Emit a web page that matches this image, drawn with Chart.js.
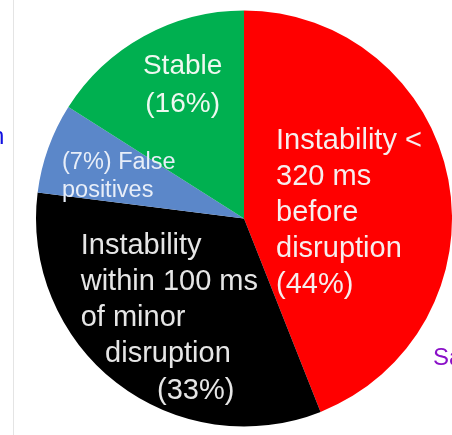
<!DOCTYPE html>
<html>
<head>
<meta charset="utf-8">
<script src="https://cdn.jsdelivr.net/npm/chart.js@4.4.0/dist/chart.umd.min.js"></script>
<style>
  html, body { margin: 0; padding: 0; background: #fff; }
  #wrap { position: relative; width: 452px; height: 435px; overflow: hidden; }
  #edge { position: absolute; left: 13px; top: 0; width: 1px; height: 435px; background: #e4e4e4; }
  .stray { position: absolute; font-family: "Liberation Sans", Arial, sans-serif; font-size: 24px; }
</style>
</head>
<body>
<div id="wrap">
  <div id="edge"></div>
  <span class="stray" style="left:-9px; top:122px; color:#1010e0;">n</span>
  <span class="stray" style="left:433px; top:343px; color:#8a10c8;">Sa</span>
  <canvas id="pie_chart" width="452" height="435"></canvas>
</div>
<script>
// categories and shares (%), clockwise from 12 o'clock
const categories = ['Instability < 320 ms before disruption', 'Instability within 100 ms of minor disruption', 'False positives', 'Stable'];
const shares = [44, 33, 7, 16];
const colors = ['#ff0000', '#000000', '#5b87c9', '#00b050'];

// label lines drawn inside each slice
const labelLines = [
  ['Instability <', '320 ms', 'before', 'disruption', '(44%)'],
  ['Instability', 'within 100 ms', 'of minor', 'disruption', '(33%)'],
  ['(7%) False', 'positives'],
  ['Stable', '(16%)']
];

// where each label sits, relative to pie centre in units of the radius
const labelSpots = [
  { dx: [0.154], dy: -0.375, lh: 36, size: 29, align: 'left', color: '#f7eeee' },
  { dx: [-0.785, -0.785, -0.785, -0.668, -0.418], dy: 0.13, lh: 36.3, size: 29, align: 'left', color: '#e6e6e6' },
  { dx: [-0.875], dy: -0.27, lh: 28, size: 23.5, align: 'left', color: '#e8eef8' },
  { dx: [-0.295], dy: -0.73, lh: 38, size: 28, align: 'center', color: '#eef8f0' }
];

const sliceText = {
  id: 'sliceText',
  afterDatasetsDraw(chart) {
    const arc = chart.getDatasetMeta(0).data[0];
    const cx = arc.x, cy = arc.y, r = arc.outerRadius;
    const c = chart.ctx;
    c.save();
    c.textBaseline = 'middle';
    labelLines.forEach(function (lines, i) {
      const s = labelSpots[i];
      c.font = s.size + 'px "Liberation Sans", Arial, sans-serif';
      c.fillStyle = s.color;
      c.textAlign = s.align;
      lines.forEach(function (t, k) {
        const dx = s.dx[Math.min(k, s.dx.length - 1)];
        c.fillText(t, cx + dx * r, cy + s.dy * r + k * s.lh);
      });
    });
    c.restore();
  }
};

const ctx = document.getElementById('pie_chart');
new Chart(ctx, {
  type: 'pie',
  data: {
    labels: categories,
    datasets: [{
      data: shares,
      backgroundColor: colors,
      borderWidth: 0
    }]
  },
  options: {
    responsive: false,
    animation: false,
    layout: { padding: { left: 36, top: 10, right: 0, bottom: 8 } },
    plugins: {
      legend: { display: false },
      tooltip: { enabled: false }
    }
  },
  plugins: [sliceText]
});
</script>
</body>
</html>
